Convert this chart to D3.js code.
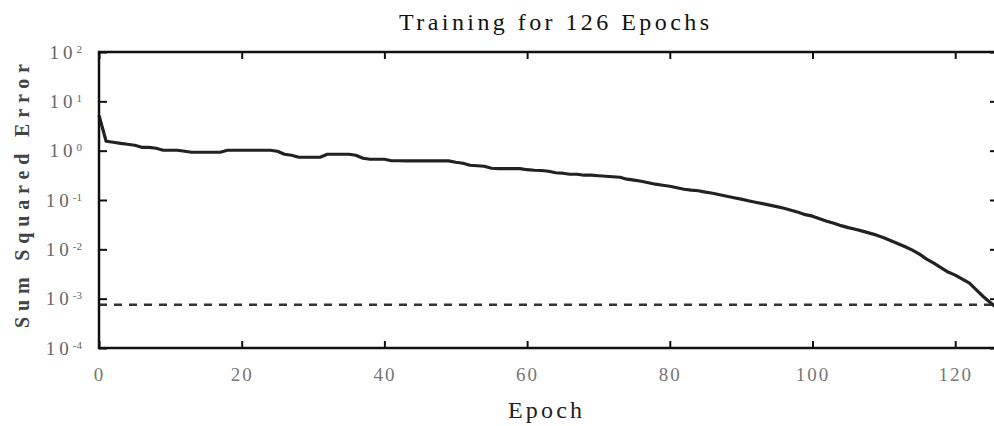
<!DOCTYPE html>
<html>
<head>
<meta charset="utf-8">
<script src="https://cdn.jsdelivr.net/npm/d3@7"></script>
<style>
  body { margin: 0; background: #fff; }
  svg { display: block; }
  text { font-family: "Liberation Serif", "DejaVu Serif", serif; }
</style>
</head>
<body>
<div id="chart"></div>
<script>
  // sum squared error per epoch
  var sse = [
    5.21, 1.55, 1.48, 1.41, 1.35, 1.29, 1.17, 1.17, 1.12, 1.02,
    1.02, 1.02, 0.973, 0.928, 0.928, 0.928, 0.928, 0.928, 1.02, 1.02,
    1.02, 1.02, 1.02, 1.02, 1.02, 0.973, 0.846, 0.807, 0.735, 0.735,
    0.735, 0.735, 0.846, 0.846, 0.846, 0.846, 0.807, 0.702, 0.670, 0.670,
    0.670, 0.625, 0.625, 0.619, 0.619, 0.619, 0.619, 0.619, 0.619, 0.619,
    0.582, 0.556, 0.506, 0.495, 0.483, 0.440, 0.434, 0.434, 0.434, 0.434,
    0.411, 0.401, 0.396, 0.383, 0.357, 0.349, 0.333, 0.333, 0.318, 0.318,
    0.310, 0.303, 0.296, 0.289, 0.264, 0.252, 0.240, 0.224, 0.209, 0.199,
    0.190, 0.177, 0.165, 0.158, 0.154, 0.144, 0.137, 0.128, 0.119, 0.111,
    0.104, 0.0968, 0.0902, 0.0842, 0.0785, 0.0732, 0.0682, 0.0621, 0.0566, 0.0504,
    0.0470, 0.0418, 0.0372, 0.0339, 0.0302, 0.0275, 0.0256, 0.0234, 0.0213, 0.0194,
    0.0172, 0.0150, 0.0130, 0.0113, 0.00963, 0.00799, 0.00633, 0.00526, 0.00426, 0.00346,
    0.00300, 0.00249, 0.00207, 0.00149, 0.00108, 0.000815, 0.000616
  ];
  var goal = 0.00075;
  var xTicks = [0, 20, 40, 60, 80, 100, 120];
  var yTicks = [1e-4, 1e-3, 1e-2, 1e-1, 1e0, 1e1, 1e2];

  var margin = {top: 52, right: -4, bottom: 78, left: 99},
      W = 994, H = 426,
      width = W - margin.left - margin.right,
      height = H - margin.top - margin.bottom;

  var svg = d3.select("#chart")
    .append("svg")
      .attr("width", W)
      .attr("height", H)
      .style("overflow", "hidden");

  var g = svg.append("g")
      .attr("transform", "translate(" + margin.left + "," + margin.top + ")");

  var x = d3.scaleLinear().domain([0, 126]).range([0, width]);
  var y = d3.scaleLog().domain([1e-4, 1e2]).range([height, 0]);

  // goal line
  g.append("line")
      .attr("x1", x(0)).attr("x2", x(126))
      .attr("y1", y(goal)).attr("y2", y(goal))
      .attr("stroke", "#333")
      .attr("stroke-width", 2.5)
      .attr("stroke-dasharray", "8,7");

  // error curve
  var line = d3.line()
      .x(function(d, i) { return x(i); })
      .y(function(d) { return y(d); });

  g.append("path")
      .datum(sse)
      .attr("fill", "none")
      .attr("stroke", "#222")
      .attr("stroke-width", 3.2)
      .attr("stroke-linejoin", "round")
      .attr("d", line);

  // axes, ticks pointing inward
  var xAxis = g.append("g")
      .attr("transform", "translate(0," + height + ")")
      .call(d3.axisBottom(x).tickValues(xTicks).tickSizeInner(-7).tickSizeOuter(0).tickPadding(20));
  g.append("g")
      .call(d3.axisTop(x).tickValues(xTicks).tickSizeInner(-7).tickSizeOuter(0).tickFormat(""));

  var yAxis = g.append("g")
      .call(d3.axisLeft(y).tickValues(yTicks).tickSizeInner(-8).tickSizeOuter(0).tickPadding(17));
  g.append("g")
      .attr("transform", "translate(" + width + ",0)")
      .call(d3.axisRight(y).tickValues(yTicks).tickSizeInner(-8).tickSizeOuter(0).tickFormat(""));

  g.selectAll(".domain").remove();
  g.selectAll(".tick line").attr("stroke", "#111").attr("stroke-width", 2);

  xAxis.selectAll("text")
      .attr("font-size", 19)
      .attr("fill", "#777")
      .attr("letter-spacing", 2);

  // 10^n labels
  yAxis.selectAll("text")
      .attr("font-size", 19)
      .attr("fill", "#666")
      .attr("letter-spacing", 4)
      .each(function(d) {
        var t = d3.select(this).text("");
        t.append("tspan").text("10");
        t.append("tspan")
          .attr("dy", "-0.55em")
          .attr("font-size", 11)
          .attr("letter-spacing", 0)
          .text(Math.round(Math.log10(d)));
      });

  // frame
  g.append("rect")
      .attr("width", width)
      .attr("height", height)
      .attr("fill", "none")
      .attr("stroke", "#111")
      .attr("stroke-width", 2.5);

  // title and labels
  svg.append("text")
      .attr("x", 554)
      .attr("y", 30)
      .attr("text-anchor", "middle")
      .attr("font-size", 24)
      .attr("fill", "#111")
      .attr("textLength", 310)
      .attr("lengthAdjust", "spacing")
      .text("Training for 126 Epochs");

  svg.append("text")
      .attr("x", 545)
      .attr("y", 418)
      .attr("text-anchor", "middle")
      .attr("font-size", 24)
      .attr("fill", "#222")
      .attr("textLength", 74)
      .attr("lengthAdjust", "spacing")
      .text("Epoch");

  svg.append("text")
      .attr("transform", "translate(29,196) rotate(-90)")
      .attr("text-anchor", "middle")
      .attr("font-size", 20)
      .attr("font-weight", "bold")
      .attr("fill", "#444")
      .attr("textLength", 264)
      .attr("lengthAdjust", "spacing")
      .text("Sum Squared Error");
</script>
</body>
</html>
